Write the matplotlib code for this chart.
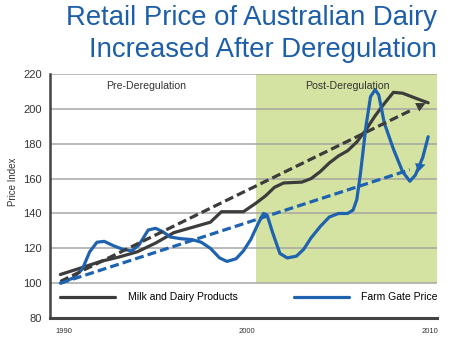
import matplotlib
matplotlib.use('Agg')
import matplotlib.pyplot as plt

plt.rcParams['font.family'] = ['Liberation Sans', 'DejaVu Sans']

# Retail (milk and dairy products) price index
milk_years = [1989.8, 1991, 1992, 1993, 1994, 1995, 1996, 1997, 1998, 1998.6,
              1999.8, 2000.5, 2001, 2001.5, 2002, 2003, 2003.5, 2004, 2004.5,
              2005, 2005.5, 2006, 2006.5, 2007, 2007.5, 2008, 2008.5, 2009,
              2009.5, 2009.9]
milk = [105, 109, 112.5, 115, 118, 123, 129, 132, 135, 141,
        141, 146, 150, 155, 157.5, 158, 160, 164, 169,
        173, 176, 181, 188, 196, 203, 209.5, 209, 207,
        205, 203.5]

# Farm gate price index
farm_years = [1989.8, 1990.5, 1991.0, 1991.4, 1991.8, 1992.2, 1992.7, 1993.2,
              1993.7, 1994.1, 1994.6, 1995.0, 1995.4, 1995.8, 1996.4, 1997.0,
              1997.5, 1998.0, 1998.5, 1998.9, 1999.4, 1999.8, 2000.2, 2000.6,
              2000.9, 2001.1, 2001.4, 2001.8, 2002.2, 2002.7, 2003.1, 2003.5,
              2004.0, 2004.5, 2005.0, 2005.5, 2005.8, 2006.0, 2006.2, 2006.5,
              2006.75, 2007.0, 2007.2, 2007.5, 2008.0, 2008.5, 2008.9, 2009.2,
              2009.6, 2009.9]
farm = [100, 103, 108, 118, 123.5, 124, 121.5, 119.5,
        118.5, 122, 130.5, 131.5, 129.5, 126.5, 125.5, 125,
        123.5, 120, 114.5, 112.5, 114, 118.5, 125, 134,
        140, 139, 129, 117, 114.5, 115.5, 119.5, 126,
        132.5, 138, 140, 140, 142, 148, 163, 190,
        207, 211, 208, 192, 177, 164, 158.5, 162,
        172, 184]

# trend lines (start, end)
trend_years = [1989.8, 2009.9]
milk_trend = [101, 204]
farm_trend = [100, 168.5]

dereg_year = 2000.5
grid_levels = [100, 120, 140, 160, 180, 200, 220]

dark = '#3c3c3c'
blue = '#1f63b0'
green = '#d4e3a1'

fig = plt.figure(figsize=(4.5, 3.38), dpi=100)
ax = fig.add_axes([0.111, 0.059, 0.86, 0.722])

ax.set_xlim(1989.23, 2010.38)
ax.set_ylim(80, 220)

# post-deregulation shading
ax.axvspan(dereg_year, 2010.38, ymin=(100 - 80) / 140, ymax=1, color=green, lw=0, zorder=0)
for g in grid_levels:
    ax.axhline(g, color='#a0a0a0', lw=1.2, alpha=0.85, zorder=1)

ax.plot(milk_years, milk, color=dark, lw=2.3, solid_joinstyle='round',
        solid_capstyle='round', zorder=3, label='Milk and Dairy Products')
ax.plot(farm_years, farm, color=blue, lw=2.3, solid_joinstyle='round',
        solid_capstyle='round', zorder=3, label='Farm Gate Price')

# dashed trend lines with arrow heads
for vals, c in [(milk_trend, dark), (farm_trend, blue)]:
    frac = 0.95
    x_end = trend_years[0] + frac * (trend_years[1] - trend_years[0])
    y_end = vals[0] + frac * (vals[1] - vals[0])
    ax.plot([trend_years[0], x_end], [vals[0], y_end], color=c, lw=2.3,
            dashes=(2.8, 1.3), zorder=4)
    ax.annotate('', xy=(trend_years[1], vals[1]), xytext=(x_end - 0.3, y_end - (vals[1] - vals[0]) * 0.3 / 20.1),
                arrowprops=dict(arrowstyle='-|>', color=c, lw=0, mutation_scale=17),
                zorder=5)

ax.text(1994.5, 213, 'Pre-Deregulation', fontsize=7.6, color='#333333', ha='center', va='center')
ax.text(2005.5, 213, 'Post-Deregulation', fontsize=7.6, color='#333333', ha='center', va='center')

ax.set_yticks([80, 100, 120, 140, 160, 180, 200, 220])
ax.set_xticks([1990, 2000, 2010])
ax.tick_params(axis='y', length=0, labelsize=8, labelcolor='#333333', pad=6)
ax.tick_params(axis='x', length=0, labelsize=5.5, labelcolor='#333333', pad=7)
ax.set_ylabel('Price Index', fontsize=7, color='#333333')
ax.yaxis.set_label_coords(-0.082, 0.56)

for s in ['top', 'right']:
    ax.spines[s].set_visible(False)
ax.spines['left'].set_color('#444444')
ax.spines['left'].set_linewidth(1.8)
ax.spines['bottom'].set_color('#444444')
ax.spines['bottom'].set_linewidth(2.2)

leg = ax.legend(loc='center', bbox_to_anchor=(0.514, 0.085), ncol=2, frameon=False,
                fontsize=7.5, handlelength=5.3, handletextpad=1.2, columnspacing=5.4)
for line in leg.get_lines():
    line.set_linewidth(2.3)

fig.text(0.971, 0.948, 'Retail Price of Australian Dairy', fontsize=19.8, color='#1d5ea8',
         ha='right', va='center')
fig.text(0.971, 0.852, 'Increased After Deregulation', fontsize=19.8, color='#1d5ea8',
         ha='right', va='center')

fig.savefig('out.png', dpi=100)
